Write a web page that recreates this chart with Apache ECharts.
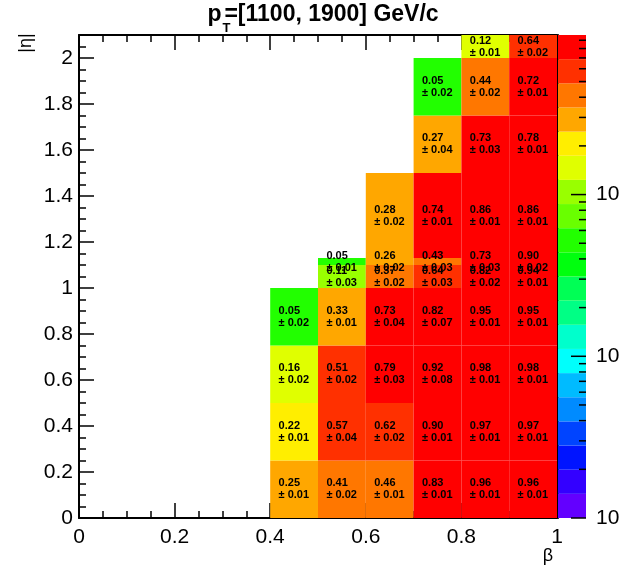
<!DOCTYPE html>
<html>
<head>
<meta charset="utf-8">
<script src="https://cdn.jsdelivr.net/npm/echarts@6/dist/echarts.min.js"></script>
<style>
  html, body { margin: 0; padding: 0; background: #fff; }
  #chart { width: 624px; height: 566px; }
</style>
</head>
<body>
<div id="chart"></div>
<script>
// |eta| bin edges, one entry per row of cells
const etaBins = [[0, 0.25], [0.25, 0.5], [0.5, 0.75], [0.75, 1.0], [1.0, 1.1],
                 [1.1, 1.13], [1.13, 1.5], [1.5, 1.75], [1.75, 2.0], [2.0, 2.1]];
// beta bin edges, one entry per column
const betaBins = [[0.4, 0.5], [0.5, 0.6], [0.6, 0.7], [0.7, 0.8], [0.8, 0.9], [0.9, 1.0]];
// efficiency per (eta row, beta column); null = empty bin
const efficiency = [
  [0.25, 0.41, 0.46, 0.83, 0.96, 0.96],
  [0.22, 0.57, 0.62, 0.90, 0.97, 0.97],
  [0.16, 0.51, 0.79, 0.92, 0.98, 0.98],
  [0.05, 0.33, 0.73, 0.82, 0.95, 0.95],
  [null, 0.11, 0.37, 0.64, 0.82, 0.94],
  [null, 0.05, 0.26, 0.43, 0.73, 0.90],
  [null, null, 0.28, 0.74, 0.86, 0.86],
  [null, null, null, 0.27, 0.73, 0.78],
  [null, null, null, 0.05, 0.44, 0.72],
  [null, null, null, null, 0.12, 0.64]
];
// statistical uncertainty on each efficiency
const efficiencyErr = [
  [0.01, 0.02, 0.01, 0.01, 0.01, 0.01],
  [0.01, 0.04, 0.02, 0.01, 0.01, 0.01],
  [0.02, 0.02, 0.03, 0.08, 0.01, 0.01],
  [0.02, 0.01, 0.04, 0.07, 0.01, 0.01],
  [null, 0.03, 0.02, 0.03, 0.02, 0.01],
  [null, 0.01, 0.02, 0.03, 0.03, 0.02],
  [null, null, 0.02, 0.01, 0.01, 0.01],
  [null, null, null, 0.04, 0.03, 0.01],
  [null, null, null, 0.02, 0.02, 0.01],
  [null, null, null, null, 0.01, 0.02]
];
// colour-scale axis: log10 range and decade labels
const zLogMin = -3;
const zLogMax = Math.log10(0.97);
const zDecades = [-3, -2, -1];

const FONT = '"Liberation Sans", Arial, Helvetica, sans-serif';
const NCONT = 20;

// ROOT "pretty" palette: 50 hues violet -> red, sampled at 20 contour levels
function hslToRgb(h) {
  const f = n => {
    const k = (n + h / 30) % 12;
    const v = 0.5 - 0.5 * Math.max(-1, Math.min(k - 3, 9 - k, 1));
    return Math.round(v * 255);
  };
  return 'rgb(' + f(0) + ',' + f(8) + ',' + f(4) + ')';
}
const palette = [];
for (let k = 0; k < NCONT; k++) {
  const j = Math.floor((k + 0.99) * 50 / NCONT);
  palette.push(hslToRgb(Math.max(0, 280 - (j + 1) * 5.6)));
}

// contour levels used to colour the cells (log-spaced)
const levelTop = -0.005, levelStep = 0.155;
const pieces = [];
for (let k = 0; k < NCONT; k++) {
  const lo = levelTop - (NCONT - k) * levelStep;
  const hi = levelTop - (NCONT - 1 - k) * levelStep;
  const p = { color: palette[k] };
  if (k > 0) p.gte = Math.pow(10, lo);
  if (k < NCONT - 1) p.lt = Math.pow(10, hi);
  pieces.push(p);
}

// flatten the table into [b0, b1, e0, e1, value, err]
const cellData = [];
etaBins.forEach((eb, r) => {
  betaBins.forEach((bb, c) => {
    const v = efficiency[r][c];
    if (v !== null) cellData.push([bb[0], bb[1], eb[0], eb[1], v, efficiencyErr[r][c]]);
  });
});

// colour bar bands and log ticks
const bandData = [];
for (let k = 0; k < NCONT; k++) {
  const s = (zLogMax - zLogMin) / NCONT;
  bandData.push([zLogMin + k * s, zLogMin + (k + 1) * s, k]);
}
const zTicks = [];
zDecades.forEach(d => {
  for (let m = 1; m <= 9; m++) {
    const t = d + Math.log10(m);
    if (t <= zLogMax) zTicks.push([t, m === 1 ? 1 : 0]);
  }
});

function cellRect(params, api) {
  const p0 = api.coord([api.value(0), api.value(2)]);
  const p1 = api.coord([api.value(1), api.value(3)]);
  return {
    type: 'rect',
    shape: { x: p0[0], y: p1[1], width: p1[0] - p0[0], height: p0[1] - p1[1] },
    style: { fill: api.visual('color') }
  };
}

function cellText(params, api) {
  const p0 = api.coord([api.value(0), api.value(2)]);
  const p1 = api.coord([api.value(1), api.value(3)]);
  const cx = (p0[0] + p1[0]) / 2, cy = (p0[1] + p1[1]) / 2;
  return {
    type: 'text',
    x: cx - 15.5,
    y: cy,
    style: {
      text: api.value(4).toFixed(2) + '\n\u00b1 ' + api.value(5).toFixed(2),
      fill: '#000',
      font: 'bold 11px ' + FONT,
      align: 'left',
      verticalAlign: 'middle',
      lineHeight: 12
    }
  };
}

function bandRect(params, api) {
  const p0 = api.coord([0, api.value(0)]);
  const p1 = api.coord([1, api.value(1)]);
  return {
    type: 'rect',
    shape: { x: p0[0], y: p1[1], width: p1[0] - p0[0], height: p0[1] - p1[1] },
    style: { fill: palette[api.value(2)] }
  };
}

function zTick(params, api) {
  const p = api.coord([1, api.value(0)]);
  const len = api.value(1) ? 15 : 7;
  return {
    type: 'line',
    shape: { x1: p[0], y1: p[1], x2: p[0] - len, y2: p[1] },
    style: { stroke: '#000', lineWidth: 1.5 }
  };
}

const axisCommon = {
  axisLine: { show: true, lineStyle: { color: '#000', width: 2 } },
  axisTick: { show: true, inside: true, length: 15, lineStyle: { color: '#000', width: 1.5 } },
  minorTick: { show: true, splitNumber: 4, length: 7, lineStyle: { color: '#000', width: 1.5 } },
  splitLine: { show: false },
  minorSplitLine: { show: false }
};

const chart = echarts.init(document.getElementById('chart'), null, { renderer: 'canvas' });

// title pieces laid out by measured width
const TITLE_FONT = 'bold 23px ' + FONT;
const ctx = document.createElement('canvas').getContext('2d');
ctx.font = TITLE_FONT;
const wP = ctx.measureText('p').width;
const titleRest = '=[1100, 1900] GeV/c';
const wRest = ctx.measureText(titleRest).width;
const titleW = wP + 3 + wRest;
const titleX = 323 - titleW / 2;

chart.setOption({
  animation: false,
  backgroundColor: '#fff',
  grid: [
    { left: 79, top: 35, width: 478, height: 483 },
    { left: 558, top: 35, width: 28, height: 483 }
  ],
  xAxis: [
    Object.assign({
      type: 'value', gridIndex: 0, position: 'bottom', min: 0, max: 1, interval: 0.2,
      axisLabel: { color: '#000', fontSize: 21, fontFamily: FONT, margin: 9 }
    }, axisCommon),
    Object.assign({
      type: 'value', gridIndex: 0, position: 'top', min: 0, max: 1, interval: 0.2,
      axisLabel: { show: false }
    }, axisCommon),
    { type: 'value', gridIndex: 1, min: 0, max: 1, show: false }
  ],
  yAxis: [
    Object.assign({
      type: 'value', gridIndex: 0, position: 'left', min: 0, max: 2.1, interval: 0.2,
      axisLabel: { color: '#000', fontSize: 21, fontFamily: FONT, margin: 6, showMaxLabel: false }
    }, axisCommon),
    {
      type: 'value', gridIndex: 1, position: 'right', min: zLogMin, max: zLogMax, interval: 1,
      axisLine: { show: true, lineStyle: { color: '#000', width: 2 } },
      axisTick: { show: false },
      splitLine: { show: false },
      axisLabel: {
        color: '#000', fontSize: 21, fontFamily: FONT, margin: 10,
        showMaxLabel: false,
        formatter: v => (zDecades.indexOf(Math.round(v)) >= 0 ? '10' : '')
      }
    }
  ],
  visualMap: {
    type: 'piecewise', show: false, seriesIndex: 0, dimension: 4, pieces: pieces
  },
  series: [
    {
      type: 'custom', name: 'cells', xAxisIndex: 0, yAxisIndex: 0, z: 2,
      renderItem: cellRect, encode: { x: [0, 1], y: [2, 3] }, data: cellData
    },
    {
      type: 'custom', name: 'values', xAxisIndex: 0, yAxisIndex: 0, z: 3,
      renderItem: cellText, encode: { x: [0, 1], y: [2, 3] }, data: cellData
    },
    {
      type: 'custom', name: 'colorbar', xAxisIndex: 2, yAxisIndex: 1, z: 2,
      renderItem: bandRect, encode: { y: [0, 1] }, data: bandData
    },
    {
      type: 'custom', name: 'colorbar ticks', xAxisIndex: 2, yAxisIndex: 1, z: 3,
      renderItem: zTick, encode: { y: 0 }, data: zTicks
    }
  ],
  graphic: [
    { type: 'text', x: titleX, y: 15, style: { text: 'p', font: TITLE_FONT, fill: '#000', verticalAlign: 'middle' } },
    { type: 'text', x: titleX + wP + 1, y: 28, style: { text: 'T', font: 'bold 13px ' + FONT, fill: '#000', verticalAlign: 'middle' } },
    { type: 'text', x: titleX + wP + 3, y: 15, style: { text: titleRest, font: TITLE_FONT, fill: '#000', verticalAlign: 'middle' } },
    { type: 'text', x: 26, y: 43, rotation: Math.PI / 2, style: { text: '|\u03b7|', font: '18px ' + FONT, fill: '#000', align: 'center', verticalAlign: 'middle' } },
    { type: 'text', x: 548, y: 556, style: { text: '\u03b2', font: '18px ' + FONT, fill: '#000', align: 'center', verticalAlign: 'middle' } }
  ]
});
</script>
</body>
</html>
